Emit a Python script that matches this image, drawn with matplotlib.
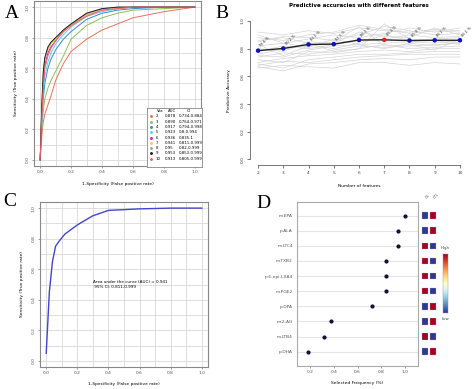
import matplotlib.pyplot as plt
import numpy as np

# ==============================
# DATA
# ==============================

# Panel A - ROC curves for models with 2..10 variables
fpr_grid = [0, 0.01, 0.02, 0.03, 0.05, 0.07, 0.1, 0.15, 0.2, 0.3, 0.4, 0.5, 0.6, 0.8, 1.0]
roc_vars = ["2", "3", "4", "5", "6", "7", "8", "9", "10"]
roc_auc = ["0.878", "0.890", "0.917", "0.923", "0.936", "0.941", "0.95", "0.953", "0.913"]
roc_ci = ["0.734-0.884", "0.764-0.971", "0.794-0.998", "0.8-0.994", "0.835-1",
          "0.811-0.999", "0.82-0.999", "0.853-0.999", "0.805-0.999"]
roc_colors = ["#e8735a", "#8fbf5a", "#2f8fd0", "#4fd8e0", "#d020c0",
              "#f0d040", "#a0a0a0", "#202020", "#f06070"]
roc_tpr = [
    [0, 0.15, 0.25, 0.30, 0.36, 0.42, 0.52, 0.63, 0.71, 0.79, 0.85, 0.89, 0.93, 0.97, 1.0],
    [0, 0.20, 0.32, 0.40, 0.47, 0.52, 0.58, 0.68, 0.79, 0.88, 0.93, 0.96, 0.98, 0.99, 1.0],
    [0, 0.25, 0.40, 0.50, 0.60, 0.66, 0.72, 0.79, 0.84, 0.92, 0.96, 0.98, 0.99, 1.0, 1.0],
    [0, 0.25, 0.45, 0.55, 0.64, 0.70, 0.76, 0.82, 0.87, 0.94, 0.97, 0.99, 1.0, 1.0, 1.0],
    [0, 0.30, 0.50, 0.62, 0.70, 0.74, 0.78, 0.84, 0.88, 0.95, 0.98, 0.99, 1.0, 1.0, 1.0],
    [0, 0.30, 0.55, 0.66, 0.72, 0.76, 0.79, 0.84, 0.88, 0.95, 0.98, 0.99, 1.0, 1.0, 1.0],
    [0, 0.32, 0.56, 0.66, 0.73, 0.77, 0.80, 0.85, 0.89, 0.96, 0.99, 1.0, 1.0, 1.0, 1.0],
    [0, 0.35, 0.58, 0.67, 0.74, 0.77, 0.80, 0.85, 0.89, 0.96, 0.99, 1.0, 1.0, 1.0, 1.0],
    [0, 0.28, 0.48, 0.60, 0.68, 0.73, 0.78, 0.84, 0.88, 0.94, 0.98, 0.99, 1.0, 1.0, 1.0],
]

# Panel B - predictive accuracy vs number of features
n_features = [2, 3, 4, 5, 6, 7, 8, 9, 10]
mean_acc = [0.786, 0.802, 0.831, 0.833, 0.863, 0.864, 0.859, 0.861, 0.861]
acc_labels = ["78.6 %", "80.2 %", "83.1 %", "83.3 %", "86.3 %", "86.4 %", "85.9 %", "86.1 %", "86.1 %"]
best_idx = 5
cv_runs = [
    [0.92, 0.90, 0.93, 0.91, 0.95, 0.93, 0.92, 0.94, 0.93],
    [0.88, 0.86, 0.90, 0.92, 0.97, 0.94, 0.91, 0.93, 0.92],
    [0.85, 0.89, 0.88, 0.86, 0.90, 0.96, 0.93, 0.90, 0.91],
    [0.82, 0.84, 0.87, 0.90, 0.88, 0.91, 0.95, 0.92, 0.95],
    [0.80, 0.78, 0.85, 0.84, 0.92, 0.89, 0.88, 0.95, 0.90],
    [0.78, 0.82, 0.80, 0.83, 0.86, 0.87, 0.90, 0.88, 0.89],
    [0.76, 0.80, 0.83, 0.80, 0.84, 0.90, 0.86, 0.87, 0.88],
    [0.75, 0.74, 0.79, 0.82, 0.83, 0.84, 0.85, 0.84, 0.86],
    [0.74, 0.77, 0.76, 0.79, 0.82, 0.81, 0.82, 0.83, 0.84],
    [0.72, 0.70, 0.78, 0.77, 0.80, 0.83, 0.80, 0.81, 0.82],
    [0.70, 0.73, 0.75, 0.76, 0.78, 0.79, 0.78, 0.80, 0.80],
    [0.69, 0.66, 0.72, 0.74, 0.76, 0.76, 0.77, 0.78, 0.78],
    [0.68, 0.71, 0.70, 0.72, 0.74, 0.75, 0.76, 0.76, 0.76],
    [0.67, 0.64, 0.69, 0.70, 0.72, 0.73, 0.72, 0.74, 0.74],
    [0.66, 0.68, 0.67, 0.66, 0.70, 0.70, 0.68, 0.70, 0.69],
    [0.90, 0.84, 0.81, 0.87, 0.83, 0.80, 0.84, 0.82, 0.85],
    [0.86, 0.88, 0.84, 0.78, 0.80, 0.98, 0.87, 0.86, 0.83],
    [0.83, 0.75, 0.82, 0.85, 0.96, 0.82, 0.83, 0.79, 0.87],
]

# Panel C - final ROC curve
fpr_final = [0, 0.01, 0.02, 0.04, 0.06, 0.08, 0.12, 0.2, 0.3, 0.4, 0.5, 0.6, 0.8, 1.0]
tpr_final = [0.05, 0.25, 0.45, 0.65, 0.75, 0.78, 0.83, 0.89, 0.95, 0.985, 0.99, 0.995, 1.0, 1.0]

# Panel D - selection frequency of metabolites
metabolites = ["m-EPA", "p-ALA", "m-LTC4", "m-TXB2", "p-6-epi-LXA4",
               "m-PGE2", "p-DPA", "m-2-AG", "m-LTB4", "p-DHA"]
sel_freq = [1.0, 0.94, 0.94, 0.84, 0.84, 0.84, 0.72, 0.38, 0.32, 0.18]
groups = ["CS", "CTL"]
# 1 = high, 0 = low
level_g1 = [0, 0, 1, 1, 1, 1, 0, 0, 1, 0]
level_g2 = [1, 1, 0, 0, 0, 0, 1, 1, 0, 1]

# ==============================
# FIGURE
# ==============================

fig = plt.figure(figsize=(4.74, 3.89), dpi=100)
W, H = 474.0, 389.0


def box(l, t, r, b):
    return [l / W, 1 - b / H, (r - l) / W, (b - t) / H]


small = 3.2
serif = "Liberation Serif"
grid_col = "#d9d9d9"

# ---------- Panel A ----------
axA = fig.add_axes(box(34, 1, 201, 166))
axA.set_xlim(-0.04, 1.04)
axA.set_ylim(-0.04, 1.04)
for tpr, col in zip(roc_tpr, roc_colors):
    axA.plot(fpr_grid, tpr, color=col, lw=0.7)
axA.set_xticks([0, 0.2, 0.4, 0.6, 0.8, 1.0])
axA.set_xticks(np.arange(0.1, 1.0, 0.2), minor=True)
axA.set_yticks([0, 0.2, 0.4, 0.6, 0.8, 1.0])
axA.set_yticks(np.arange(0.1, 1.0, 0.2), minor=True)
axA.grid(True, which="both", color=grid_col, lw=0.6)
axA.set_axisbelow(True)
axA.set_xticklabels(["0.0", "0.2", "0.4", "0.6", "0.8", "1.0"])
axA.set_yticklabels(["0.0", "0.2", "0.4", "0.6", "0.8", "1.0"], rotation=90, va="center")
axA.tick_params(labelsize=small, length=1.5, width=0.4, pad=1.5, colors="#555555")
axA.tick_params(which="minor", length=0)
for s in axA.spines.values():
    s.set_color("#888888")
    s.set_linewidth(0.8)
axA.set_xlabel("1-Specificity (False positive rate)", fontsize=small, labelpad=6)
axA.set_ylabel("Sensitivity (True positive rate)", fontsize=small, labelpad=6)

# legend table
leg = fig.add_axes(box(147, 108, 202, 167))
leg.set_xlim(0, 1)
leg.set_ylim(10.6, -0.6)
leg.set_xticks([])
leg.set_yticks([])
for s in leg.spines.values():
    s.set_color("#888888")
    s.set_linewidth(0.6)
leg.text(0.18, 0, "Var.", fontsize=2.8, va="center")
leg.text(0.38, 0, "AUC", fontsize=2.8, va="center")
leg.text(0.72, 0, "CI", fontsize=2.8, va="center")
for i, (v, a, c, col) in enumerate(zip(roc_vars, roc_auc, roc_ci, roc_colors)):
    y = i + 1
    leg.scatter([0.07], [y], s=1.2, color=col)
    leg.text(0.16, y, v, fontsize=2.8, va="center")
    leg.text(0.33, y, a, fontsize=2.8, va="center")
    leg.text(0.58, y, c, fontsize=2.8, va="center")

# ---------- Panel B ----------
axB = fig.add_axes(box(250, 15.5, 468, 165))
for run in cv_runs:
    axB.plot(n_features, run, color="#d4d4d4", lw=0.5)
axB.plot(n_features, mean_acc, color="#222222", lw=1.0)
pt_cols = ["#1010c0"] * len(n_features)
pt_cols[best_idx] = "#e02020"
axB.scatter(n_features, mean_acc, s=5, color=pt_cols, zorder=3)
for x, y, lab in zip(n_features, mean_acc, acc_labels):
    axB.text(x + 0.05, y + 0.02, lab, fontsize=2.6, rotation=45,
             ha="left", va="bottom", color="#333333")
axB.set_xlim(1.68, 10.32)
axB.set_ylim(-0.04, 1.04)
axB.set_xticks(n_features)
axB.set_yticks([0, 0.2, 0.4, 0.6, 0.8, 1.0])
axB.set_yticklabels(["0.0", "0.2", "0.4", "0.6", "0.8", "1.0"], rotation=90, va="center")
axB.spines["top"].set_visible(False)
axB.spines["right"].set_visible(False)
axB.spines["left"].set_bounds(0, 1)
axB.spines["bottom"].set_bounds(2, 10)
for s in ["left", "bottom"]:
    axB.spines[s].set_linewidth(0.5)
    axB.spines[s].set_color("#444444")
axB.tick_params(labelsize=small, length=2, width=0.5, pad=2, colors="#444444")
axB.set_xlabel("Number of features", fontsize=small, labelpad=7)
axB.set_ylabel("Predictive Accuracy", fontsize=small, labelpad=7)
axB.set_title("Predictive accuracies with different features", fontsize=4, fontweight="bold", pad=6)

# ---------- Panel C ----------
axC = fig.add_axes(box(40, 202, 208, 367))
axC.set_xlim(-0.04, 1.04)
axC.set_ylim(-0.04, 1.04)
axC.set_xticks([0, 0.2, 0.4, 0.6, 0.8, 1.0])
axC.set_xticks(np.arange(0.1, 1.0, 0.2), minor=True)
axC.set_yticks([0, 0.2, 0.4, 0.6, 0.8, 1.0])
axC.set_yticks(np.arange(0.1, 1.0, 0.2), minor=True)
axC.grid(True, which="both", color=grid_col, lw=0.6)
axC.set_axisbelow(True)
axC.plot(fpr_final, tpr_final, color="#4444cc", lw=1.0)
axC.set_xticklabels(["0.0", "0.2", "0.4", "0.6", "0.8", "1.0"])
axC.set_yticklabels(["0.0", "0.2", "0.4", "0.6", "0.8", "1.0"], rotation=90, va="center")
axC.tick_params(labelsize=small, length=1.5, width=0.4, pad=1.5, colors="#555555")
axC.tick_params(which="minor", length=0)
for s in axC.spines.values():
    s.set_color("#888888")
    s.set_linewidth(0.8)
axC.set_xlabel("1-Specificity (False positive rate)", fontsize=small, labelpad=5)
axC.set_ylabel("Sensitivity (True positive rate)", fontsize=small, labelpad=6)
axC.text(0.3, 0.5, "Area under the curve (AUC) = 0.941\n 95% CI: 0.811-0.999",
         fontsize=3, va="center", ha="left", linespacing=1.3)

# ---------- Panel D ----------
axD = fig.add_axes(box(297, 202, 418, 366))
ypos = np.arange(len(metabolites))
for y in ypos:
    axD.axhline(y, color="#e4e4ec", lw=0.8, zorder=0)
axD.scatter(sel_freq, ypos, s=4, color="#111133", zorder=3)
axD.set_xlim(0.09, 1.11)
axD.set_ylim(9.95, -0.9)
axD.set_yticks(ypos)
axD.set_yticklabels(metabolites)
axD.set_xticks([0.2, 0.4, 0.6, 0.8, 1.0])
axD.tick_params(labelsize=small, length=1.5, width=0.4, pad=1.5, colors="#555555")
axD.tick_params(axis="y", length=0, pad=3)
for s in axD.spines.values():
    s.set_color("#aaaaaa")
    s.set_linewidth(0.8)
axD.set_xlabel("Selected Frequency (%)", fontsize=small, labelpad=5)

# heatmap squares
axH = fig.add_axes(box(420, 202, 438, 366))
axH.set_xlim(-0.6, 1.6)
axH.set_ylim(9.95, -0.9)
axH.axis("off")
axH.scatter(np.zeros(len(ypos)), ypos, c=level_g1, cmap="RdYlBu_r", vmin=0, vmax=1,
            marker="s", s=22, edgecolors="#bbbbbb", linewidths=0.2)
axH.scatter(np.ones(len(ypos)), ypos, c=level_g2, cmap="RdYlBu_r", vmin=0, vmax=1,
            marker="s", s=22, edgecolors="#bbbbbb", linewidths=0.2)
for i, g in enumerate(groups):
    axH.text(i, -1.05, g, fontsize=2.6, rotation=45, ha="left", va="bottom", color="#555555")

# colorbar
axCb = fig.add_axes(box(443, 254, 448, 313))
grad = np.linspace(1, 0, 100).reshape(-1, 1)
axCb.imshow(grad, aspect="auto", cmap="RdYlBu_r", vmin=0, vmax=1)
axCb.set_xticks([])
axCb.set_yticks([])
for s in axCb.spines.values():
    s.set_color("#999999")
    s.set_linewidth(0.3)
fig.text(445.5 / W, 1 - 250 / H, "High", fontsize=2.8, ha="center", va="bottom", color="#444444")
fig.text(445.5 / W, 1 - 317 / H, "Low", fontsize=2.8, ha="center", va="top", color="#444444")

# panel letters
for lab, x, y in [("A", 12, 13), ("B", 222, 13), ("C", 10, 202), ("D", 263, 203)]:
    fig.text(x / W, 1 - y / H, lab, fontsize=14, family=serif, ha="center", va="center")

fig.savefig("out.png", dpi=100)
